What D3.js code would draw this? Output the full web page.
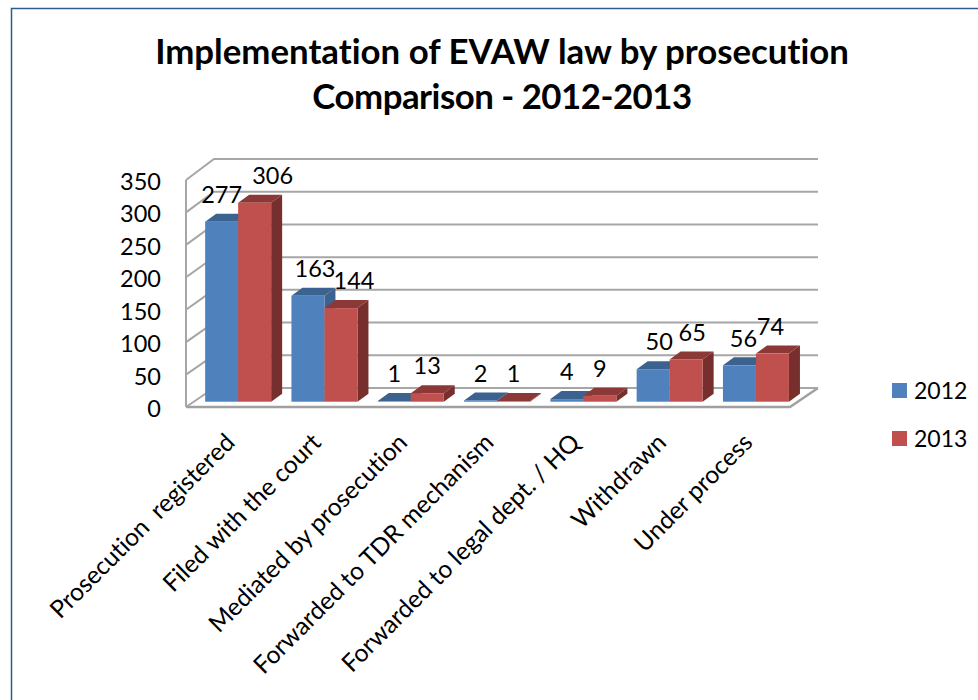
<!DOCTYPE html>
<html><head><meta charset="utf-8">
<script src="https://cdn.jsdelivr.net/npm/d3@7/dist/d3.min.js"></script>
<style>html,body{margin:0;padding:0;background:#fff}svg{display:block}text{font-family:Lato,"Open Sans",sans-serif;fill:#000;white-space:pre;font-variant-ligatures:none}</style>
</head><body><div id="chart"></div>
<script>
const categories = ["Prosecution  registered","Filed with the court","Mediated by prosecution","Forwarded to TDR mechanism","Forwarded to legal dept. / HQ","Withdrawn","Under process"];
const seriesNames = ["2012","2013"];
const values2012 = [277,163,1,2,4,50,56];
const values2013 = [306,144,13,1,9,65,74];
const yTicks = [0,50,100,150,200,250,300,350];
const titleLines = ["Implementation of EVAW law by prosecution","Comparison - 2012-2013"];

const W=978,H=700;
const svg=d3.select("#chart").append("svg").attr("width",W).attr("height",H);
// page frame
svg.append("path").attr("d","M11.5,700V8.5H978").attr("fill","none").attr("stroke","#2f5b92").attr("stroke-width",1.5);

// title
svg.append("g").selectAll("text").data(titleLines).join("text")
 .attr("x",502).attr("y",(d,i)=>64+i*45).attr("text-anchor","middle")
 .attr("font-size",34.8).attr("font-weight",700)
 .attr("letter-spacing",(d,i)=>i?-0.5:0).text(d=>d);

// geometry
const front={l:186,r:790,b:407,t:180}, depth={x:28,y:-20};
const yFront=d3.scaleLinear().domain([0,350]).range([front.b,front.t]);
const yBack=d3.scaleLinear().domain([0,350]).range([388,159]);
const yBar=d3.scaleLinear().domain([0,350]).range([401.7,174.2]);
const x0=d3.scaleBand().domain(categories).range([195,195+86.3*7]).padding(0);
const barW=33, groupPad=(x0.bandwidth()-2*barW)/2;
const bd={x:11,y:-8};
const grid="#a6a6a6";

// walls
const wall=svg.append("g").attr("fill","none").attr("stroke",grid).attr("stroke-width",2);
wall.append("path").attr("d",`M${front.l},${front.b}H${front.r}L${front.r+depth.x},${yBack(0)}`).attr("stroke","#a0a0a0").attr("stroke-width",2.5);
wall.append("path").attr("d",`M${front.l},${front.t}V${front.b}`);
wall.selectAll(".g").data(yTicks).join("path").attr("class","g")
 .attr("d",d=>`M${front.l},${yFront(d)}L${front.l+depth.x},${yBack(d)}H${front.r+depth.x}`);

// y axis labels via d3 axis
const ax=svg.append("g").attr("transform","translate(164,2)")
 .call(d3.axisLeft(yFront).tickValues(yTicks).tickSize(0).tickPadding(3).tickFormat(d3.format("d")));
ax.select(".domain").remove();
ax.attr("font-family",null);
ax.selectAll("text").attr("font-size",23.5).attr("x",-3);

// bars
const colors=[{f:"#4f81bd",t:"#3c6390",s:"#3c6390"},{f:"#c0504d",t:"#8b3836",s:"#772f2d"}];
const rows=categories.map((c,i)=>({c,vals:[values2012[i],values2013[i]]}));
const labelNudge=[[0,18],[7,13],[0,0],[0,0],[0,0],[6,6],[4,-2]];
const base=yBar(0);
rows.forEach((r,ci)=>{
  r.vals.forEach((v,si)=>{
    const x=x0(r.c)+groupPad+si*barW, y=yBar(v), c=colors[si];
    const g=svg.append("g").datum(v);
    g.append("polygon").attr("fill",c.s).attr("points",[[x+barW,y],[x+barW+bd.x,y+bd.y],[x+barW+bd.x,base+bd.y],[x+barW,base]].join(" "));
    g.append("polygon").attr("fill",c.t).attr("points",[[x,y],[x+bd.x,y+bd.y],[x+barW+bd.x,y+bd.y],[x+barW,y]].join(" "));
    g.append("rect").attr("x",x).attr("y",y).attr("width",barW).attr("height",base-y).attr("fill",c.f);
  });
});
rows.forEach((r,ci)=>{
  r.vals.forEach((v,si)=>{
    const x=x0(r.c)+groupPad+si*barW+barW/2+labelNudge[ci][si];
    svg.append("text").attr("x",x).attr("y",yBar(v)-27).attr("dy","0.35em").attr("text-anchor","middle").attr("font-size",23.5).text(v);
  });
});

// category labels
svg.append("g").selectAll("text").data(categories).join("text")
 .attr("text-anchor","end").attr("font-size",24.6)
 .attr("transform",d=>`translate(${x0(d)+x0.bandwidth()/2-2},444) rotate(-45)`)
 .text(d=>d);

// legend
const lg=svg.append("g").selectAll("g").data(seriesNames).join("g").attr("transform",(d,i)=>`translate(892,${383+i*48})`);
lg.append("rect").attr("width",15).attr("height",15).attr("fill",(d,i)=>colors[i].f);
lg.append("text").attr("x",22).attr("y",7.5).attr("dy","0.35em").attr("font-size",23).text(d=>d);
</script></body></html>
